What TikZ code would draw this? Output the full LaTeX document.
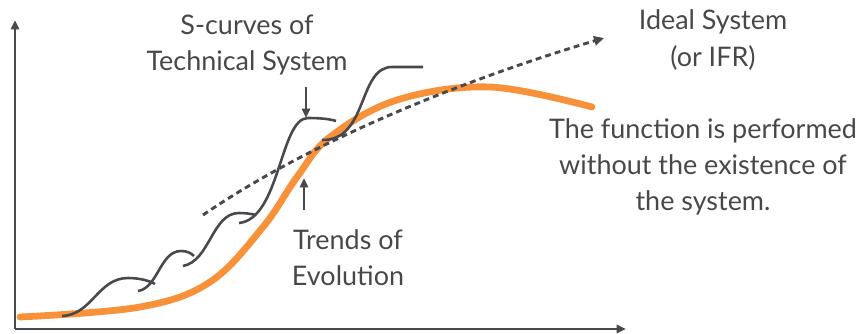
\documentclass[tikz,border=0pt]{standalone}
\usepackage{fontspec}
\setmainfont{Lato}
\usepackage{tikz}
\usetikzlibrary{arrows.meta}
\definecolor{axisgray}{HTML}{48484D}
\definecolor{textgray}{HTML}{484848}
\definecolor{trendorange}{HTML}{F7923A}

\begin{document}
\begin{tikzpicture}[x=0.03cm, y=-0.03cm,
        axis/.style={draw=axisgray, line width=2.4pt, -{Triangle[length=8pt,width=7pt]}},
        scurve/.style={draw=axisgray, line width=2.2pt},
        trend/.style={draw=trendorange, line width=5.8pt, line cap=round},
        ideal/.style={draw=axisgray, line width=2.5pt, dash pattern=on 5pt off 3.5pt, -{Triangle[length=8.5pt,width=8pt]}},
        pointer/.style={draw=axisgray, line width=2.2pt, -{Triangle[length=8pt,width=7pt]}},
        label/.style={text=textgray, align=center, font=\fontsize{23}{31}\selectfont, inner sep=0pt}]

        \useasboundingbox (0,0) rectangle (861,334);

        \coordinate (origin) at (15,329);
        \coordinate (yend) at (15,20);
        \coordinate (xend) at (626,329);
        \draw [axis] (origin) -- (yend);
        \draw [axis] (origin) -- (xend);

        \draw [trend] plot [smooth, tension=0.6] coordinates {(20,317) (140,307) (210,282) (263,227) (297,177) (330,137) (397,100) (490,87) (592,107)};

        \draw [scurve] (62,316) .. controls (92,315) and (98,278) .. (128,278) .. controls (140,278) and (150,281) .. (155,284);
        \draw [scurve] (138,291) .. controls (158,288) and (160,251) .. (181,251) .. controls (187,251) and (191,253) .. (194,256);
        \draw [scurve] (183,266) .. controls (210,261) and (212,213) .. (239,213) .. controls (246,213) and (252,214) .. (256,215);
        \draw [scurve] (239,223) .. controls (280,219) and (280,118) .. (308,118) .. controls (320,118) and (330,119) .. (336,121);
        \draw [scurve] (322,140) .. controls (368,141) and (358,67) .. (392,67) .. controls (405,67) and (415,67) .. (423,67);

        \coordinate (dashstart) at (203,215);
        \coordinate (dashend) at (604,38);
        \draw [ideal] (dashstart) .. controls (320,135) and (480,75) .. (dashend);

        \node [label] (scurvelabel) at (247,45) {S-curves of\\Technical System};
        \node [label] (ideallabel) at (713,40) {Ideal System\\(or IFR)};
        \node [label] (functionlabel) at (703,167) {The function is performed\\without the existence of\\the system.};
        \node [label] (trendslabel) at (348,258) {Trends of\\Evolution};

        \coordinate (downtail) at (306,87);
        \coordinate (downtip) at (306,118);
        \coordinate (uptail) at (304,210);
        \coordinate (uptip) at (304,178);
        \draw [pointer] (downtail) -- (downtip);
        \draw [pointer] (uptail) -- (uptip);

\end{tikzpicture}
\end{document}
